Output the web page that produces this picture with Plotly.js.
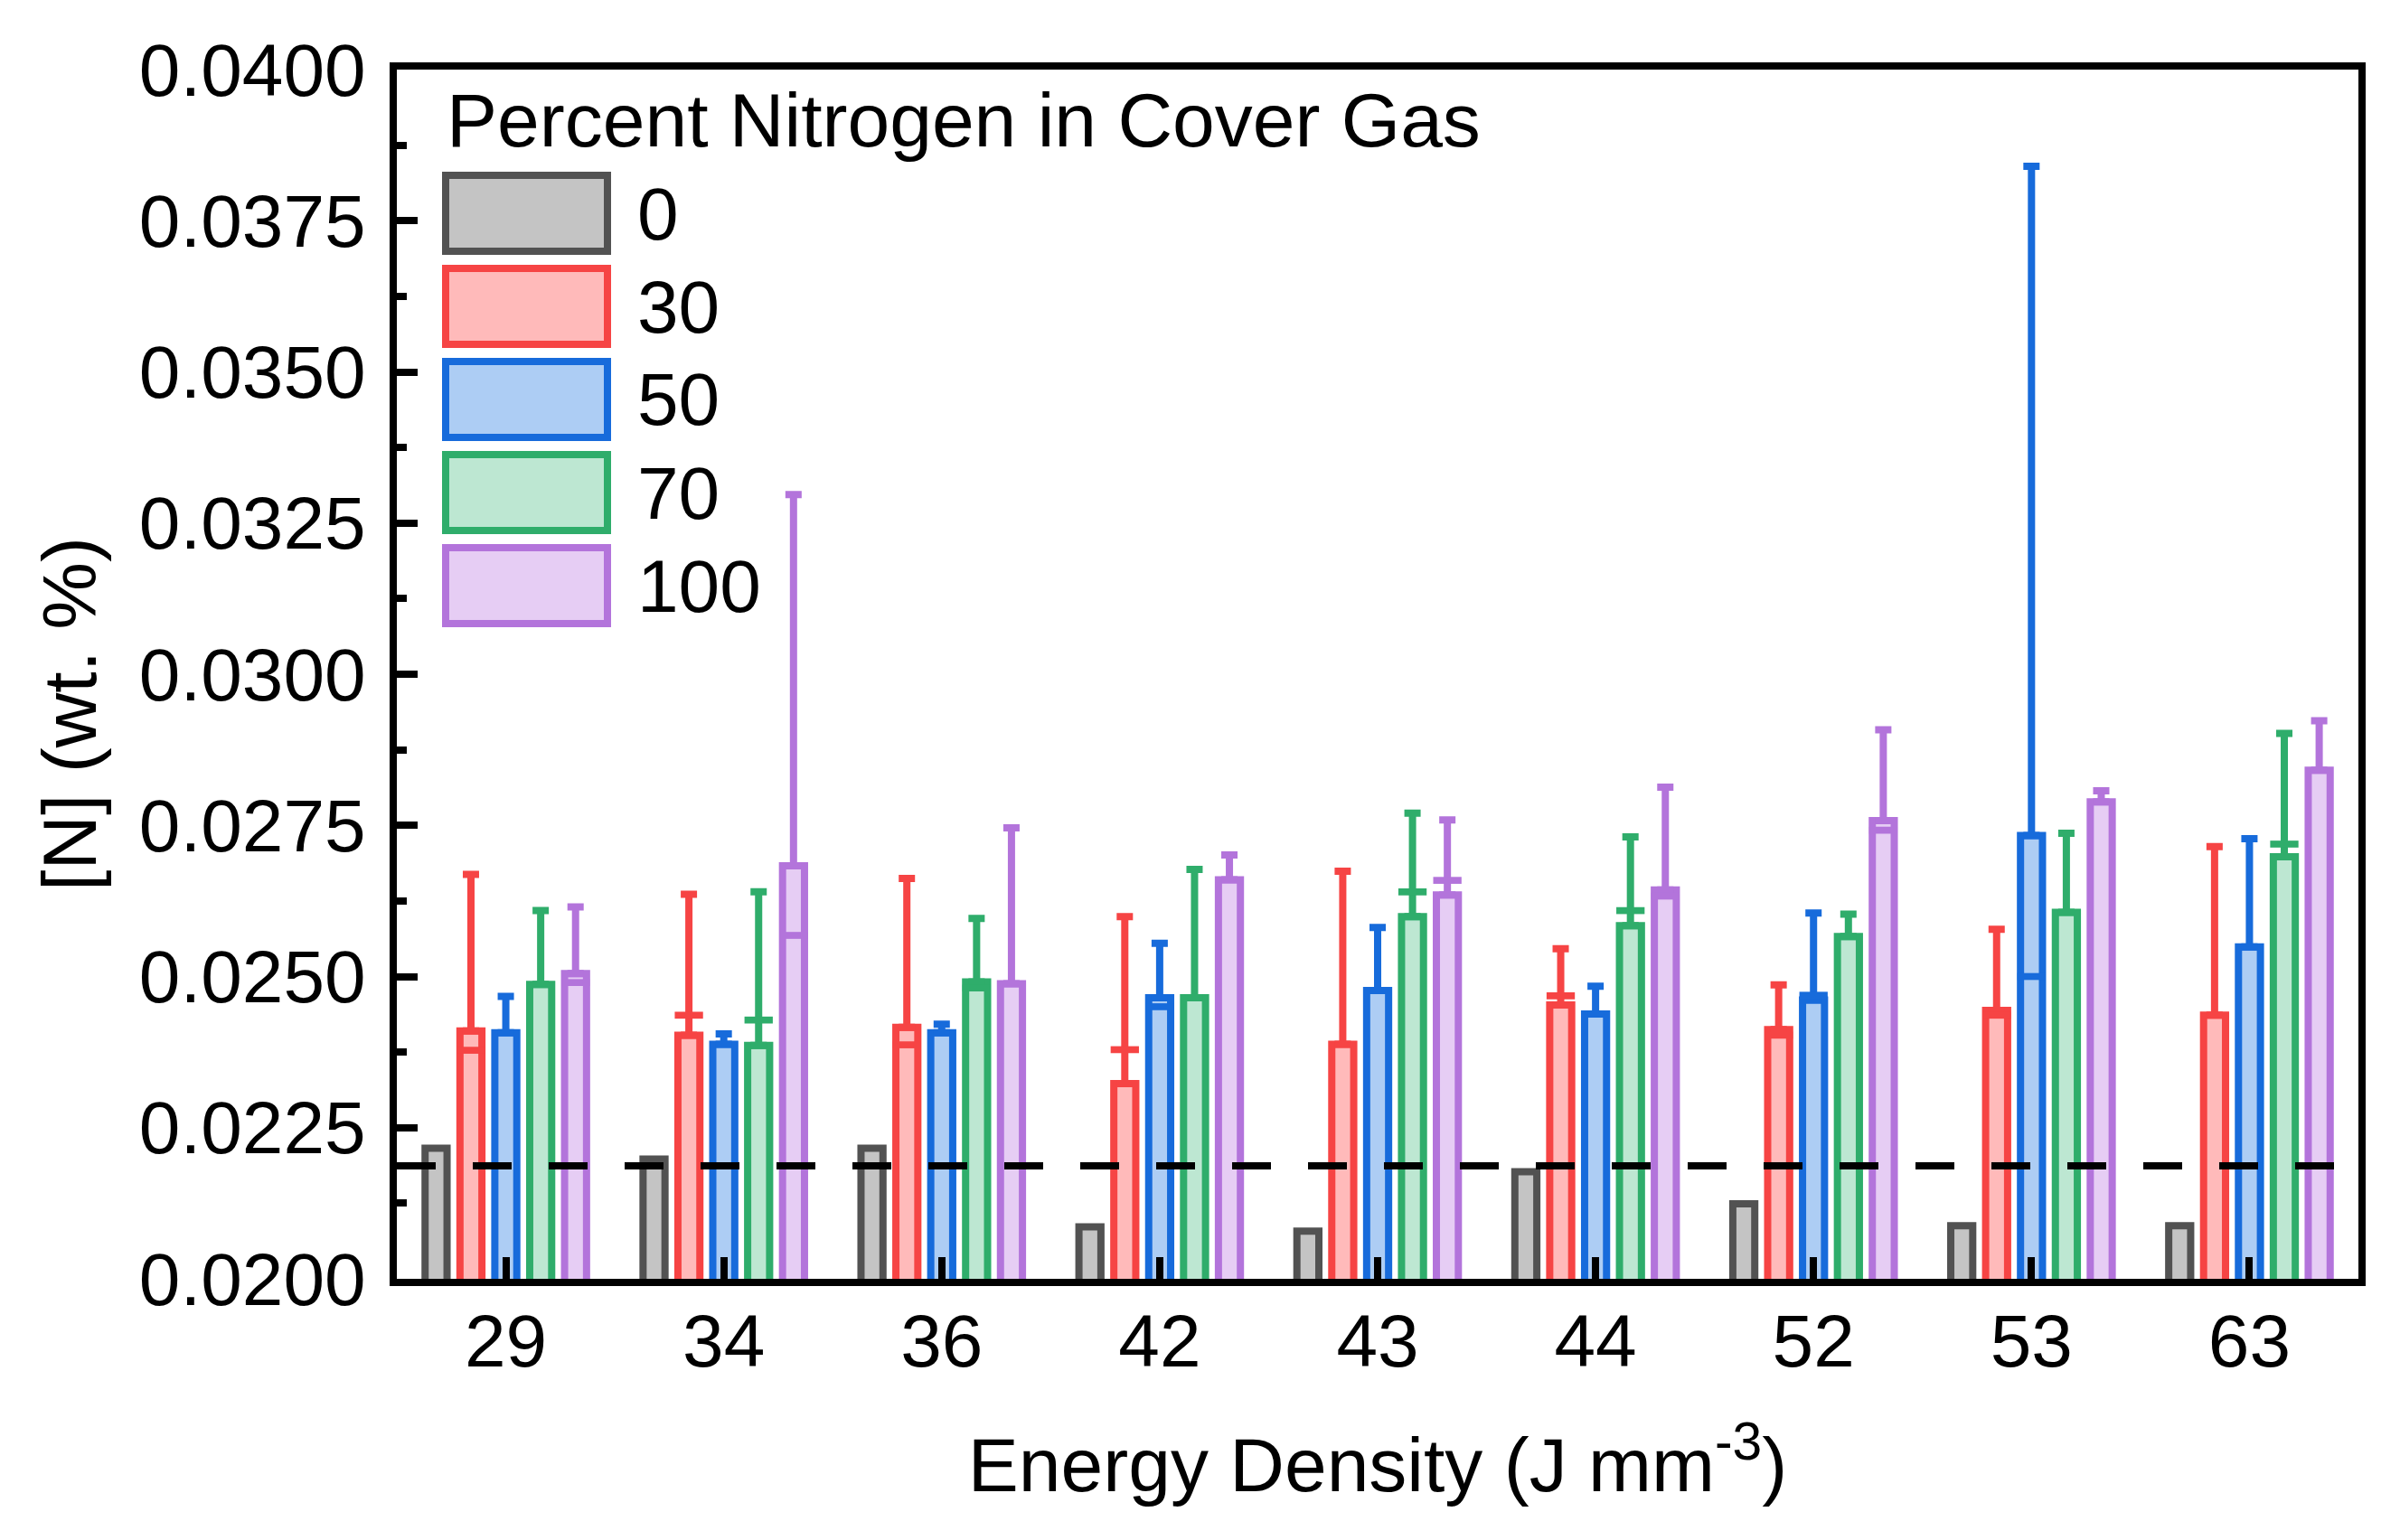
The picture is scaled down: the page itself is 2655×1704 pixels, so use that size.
<!DOCTYPE html>
<html><head><meta charset="utf-8">
<script src="https://cdn.plot.ly/plotly-3.0.1.min.js"></script>
<style>html,body{margin:0;padding:0;background:#fff}#chart{width:2655px;height:1704px}</style>
</head><body><div id="chart"></div>
<script>
// ---- data ----
const categories = ['29','34','36','42','43','44','52','53','63'];
const seriesNames = ['0','30','50','70','100'];
const legendTitle = 'Percent Nitrogen in Cover Gas';
const xTitle = 'Energy Density (J mm<sup>-3</sup>)';
const yTitle = '[N] (wt. %)';

const mean0   = [0.02216, 0.02198, 0.02216, 0.02086, 0.02079, 0.02177, 0.02124, 0.02088, 0.02088];
const mean30  = [0.02410, 0.02403, 0.02416, 0.02323, 0.02388, 0.02453, 0.02412, 0.02444, 0.02436];
const mean50  = [0.02407, 0.02388, 0.02407, 0.02465, 0.02477, 0.02438, 0.02461, 0.02733, 0.02549];
const mean70  = [0.02487, 0.02386, 0.02491, 0.02465, 0.02599, 0.02584, 0.02566, 0.02606, 0.02698];
const mean100 = [0.02505, 0.02683, 0.02488, 0.02660, 0.02635, 0.02643, 0.02758, 0.02789, 0.02841];

// upper end of each error bar
const upper30  = [0.02669, 0.02636, 0.02662, 0.02599, 0.02674, 0.02546, 0.02486, 0.02578, 0.02715];
const upper50  = [0.02467, 0.02405, 0.02421, 0.02555, 0.02581, 0.02484, 0.02605, 0.03840, 0.02728];
const upper70  = [0.02609, 0.02640, 0.02596, 0.02677, 0.02770, 0.02731, 0.02603, 0.02737, 0.02902];
const upper100 = [0.02615, 0.03297, 0.02746, 0.02701, 0.02759, 0.02813, 0.02908, 0.02807, 0.02923];

// second (other-end) error cap
const cap30  = [0.02378, 0.02436, 0.02387, 0.02379, null, 0.02468, 0.02403, 0.02436, null];
const cap50  = [null, null, null, 0.02450, null, null, 0.02469, 0.02500, null];
const cap70  = [null, 0.02428, 0.02481, null, 0.02640, 0.02609, null, null, 0.02719];
const cap100 = [0.02490, 0.02568, null, null, 0.02659, 0.02633, 0.02742, null, null];

const referenceLevel = 0.02187;

// ---- styles ----
const lineColors = ['#525252','#F64444','#176BDB','#2FAD6B','#B374DB'];
const fillColors = ['#C4C4C4','#FFBABA','#ADCDF4','#BDE7D2','#E6CDF4'];
const FONT = 'Arial, "Liberation Sans", Helvetica, sans-serif';
const LW = 8;

const means  = [mean0, mean30, mean50, mean70, mean100];
const uppers = [null, upper30, upper50, upper70, upper100];
const caps   = [null, cap30, cap50, cap70, cap100];

const traces = [];
means.forEach((m, i) => {
  const t = {
    type: 'bar', x: categories, y: m, name: seriesNames[i], offsetgroup: String(i),
    marker: {color: fillColors[i], line: {color: lineColors[i], width: LW}},
    showlegend: false, hoverinfo: 'x+y+name'
  };
  if (uppers[i]) {
    t.error_y = {
      type: 'data', symmetric: false,
      array: uppers[i].map((u, j) => u - m[j]),
      arrayminus: m.map(() => 0),
      color: lineColors[i], thickness: LW, width: 9
    };
  }
  traces.push(t);
});
const CAP_H = 0.00001;
caps.forEach((c, i) => {
  if (!c) return;
  traces.push({
    type: 'bar', x: categories,
    y: c.map(v => v == null ? null : CAP_H),
    base: c.map(v => v == null ? null : v - CAP_H / 2),
    offsetgroup: String(i),
    marker: {color: lineColors[i], line: {color: lineColors[i], width: LW - 1}},
    showlegend: false, hoverinfo: 'skip'
  });
});

const W = 2655, H = 1704, L = 439, R = 2609, T = 77, B = 1415;
const px = x => (x - L) / (R - L);
const py = y => (B - y) / (B - T);

const shapes = [{
  type: 'line', xref: 'paper', x0: 0, x1: 1, yref: 'y', y0: referenceLevel, y1: referenceLevel,
  line: {color: '#000', width: LW, dash: '43px,41px'}, layer: 'above'
}];
const annotations = [{
  xref: 'paper', yref: 'paper', x: px(492), y: py(133), xanchor: 'left', yanchor: 'middle',
  text: legendTitle, showarrow: false, font: {size: 84, color: '#000', family: FONT}
}, {
  xref: 'paper', yref: 'paper', x: px(77), y: py(790), xanchor: 'center', yanchor: 'middle',
  textangle: -90, text: yTitle, showarrow: false, font: {size: 84, color: '#000', family: FONT}
}];
seriesNames.forEach((n, i) => {
  const top = 194 + 103 * i, bot = top + 84;
  shapes.push({
    type: 'rect', xref: 'paper', yref: 'paper', x0: px(493), x1: px(672), y0: py(bot), y1: py(top),
    line: {color: lineColors[i], width: LW}, fillcolor: fillColors[i], layer: 'above'
  });
  annotations.push({
    xref: 'paper', yref: 'paper', x: px(703), y: py((top + bot) / 2), xanchor: 'left', yanchor: 'middle',
    text: n, showarrow: false, font: {size: 82, color: '#000', family: FONT}
  });
});

const layout = {
  width: W, height: H,
  margin: {l: L, r: W - R, t: T, b: H - B, pad: 0},
  paper_bgcolor: '#fff', plot_bgcolor: '#fff',
  barmode: 'group', bargap: 0.2, bargroupgap: 0.37,
  font: {family: FONT, color: '#000', size: 82},
  showlegend: false,
  xaxis: {
    type: 'category', showline: true, linecolor: '#000', linewidth: LW, mirror: true,
    ticks: 'inside', ticklen: 24, tickwidth: LW, tickcolor: '#000',
    tickfont: {size: 82, family: FONT, color: '#000'}, ticklabelstandoff: -9,
    showgrid: false, zeroline: false, automargin: false,
    title: {text: xTitle, font: {size: 84, family: FONT, color: '#000'}, standoff: 66}
  },
  yaxis: {
    range: [0.02, 0.04], tick0: 0.02, dtick: 0.0025, tickformat: '.4f',
    showline: true, linecolor: '#000', linewidth: LW, mirror: true,
    ticks: 'inside', ticklen: 23, tickwidth: LW, tickcolor: '#000',
    minor: {ticks: 'inside', ticklen: 11, tickwidth: LW, tickcolor: '#000', dtick: 0.00125},
    tickfont: {size: 82, family: FONT, color: '#000'}, ticklabelstandoff: 10,
    showgrid: false, zeroline: false, automargin: false
  },
  shapes: shapes,
  annotations: annotations
};

Plotly.newPlot('chart', traces, layout, {staticPlot: true, displayModeBar: false});
</script>
</body></html>
